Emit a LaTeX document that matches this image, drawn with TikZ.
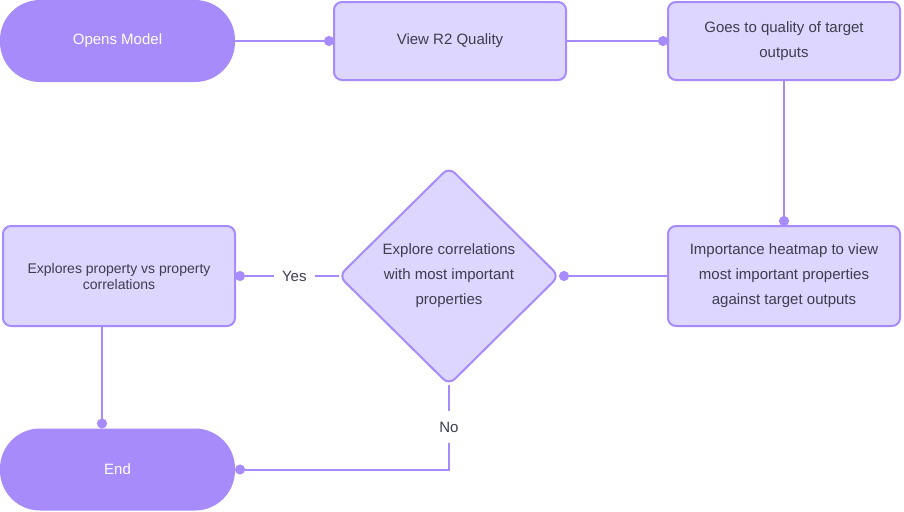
\documentclass[tikz,border=0pt]{standalone}
\usepackage{fontspec}
\setmainfont{Liberation Sans}
\usepackage{xcolor}
\usetikzlibrary{positioning,shapes.geometric,arrows.meta}
\pgfdeclarelayer{nodelayer}
\pgfdeclarelayer{edgelayer}
\pgfsetlayers{main,nodelayer,edgelayer}
\definecolor{vdark}{HTML}{A78BFA}
\definecolor{vlight}{HTML}{DDD6FE}
\definecolor{vtext}{HTML}{3D3D4E}
\tikzstyle{terminal}=[rectangle, rounded corners=30pt, fill=vdark, text=white, outer sep=0pt, minimum width=176.25pt, minimum height=61.5pt, font=\fontsize{11.25}{18.75}\selectfont]
\tikzstyle{proc}=[rectangle, rounded corners=6pt, fill=vlight, draw=vdark, line width=1.5pt, text=vtext, outer sep=0pt, minimum width=174pt, minimum height=58.5pt, align=center, font=\fontsize{11.25}{18.75}\selectfont]
\tikzstyle{decision}=[diamond, aspect=1, rounded corners=6pt, fill=vlight, draw=vdark, line width=1.5pt, text=vtext, inner sep=0pt, outer sep=0pt, minimum width=165pt, minimum height=163pt, align=center, font=\fontsize{11.25}{18.75}\selectfont]
\tikzstyle{flow}=[-{Circle[length=7.5pt]}, draw=vdark, line width=1.5pt]
\tikzstyle{edgelabel}=[fill=white, text=vtext, inner xsep=6pt, inner ysep=8pt, font=\fontsize{11.25}{12}\selectfont]

\begin{document}
\begin{tikzpicture}[x=0.75pt, y=-0.75pt]
        \useasboundingbox (0,0) rectangle (904,511);
        \begin{pgfonlayer}{nodelayer}
            \node [style=terminal] (start) at (117.5, 41) {Opens Model};
            \node [style=proc, right=74.25pt of start] (view) {View R2 Quality};
            \node [style=proc, right=76.5pt of view] (goes) {Goes to quality of target\\outputs};
            \node [style=proc, minimum height=75pt, below=109.5pt of goes] (heat) {Importance heatmap to view\\most important properties\\against target outputs};
            \node [style=decision, left=81.75pt of heat] (dec) {Explore correlations\\with most important\\properties};
            \node [style=proc, minimum height=75pt, left=78pt of dec, font=\fontsize{10.5}{12}\selectfont] (expl) {Explores property vs property\\correlations};
            \node [style=terminal] (endn) at (117.5, 469.5) {End};
        \end{pgfonlayer}
        \begin{pgfonlayer}{edgelayer}
                \draw [style=flow] (start) -- (view);
                \draw [style=flow] (view) -- (goes);
                \draw [style=flow] (goes) -- (heat);
                \draw [style=flow] (heat) -- (dec);
                \draw [style=flow] (dec) -- node[style=edgelabel, pos=0.43] {Yes} (expl);
                \draw [style=flow] (dec) |- node[style=edgelabel, pos=0.25] {No} (endn);
                \draw [style=flow] ([xshift=-12.75pt]expl.south) -- ([xshift=-12.75pt]expl.south |- endn.north);
        \end{pgfonlayer}
\end{tikzpicture}
\end{document}
